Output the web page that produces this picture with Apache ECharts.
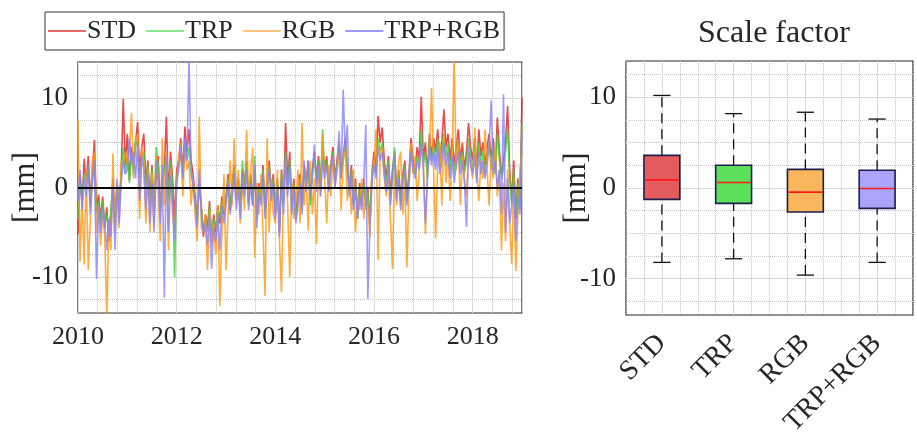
<!DOCTYPE html>
<html>
<head>
<meta charset="UTF-8">
<title></title>
<script src="https://cdn.jsdelivr.net/npm/echarts@6/dist/echarts.min.js"></script>
<style>
* { margin: 0; padding: 0; }
#app { width: 917px; height: 444px; background: #fff; }
</style>
</head>
<body>
<div id="app"></div>
<script>
var names = ['STD', 'TRP', 'RGB', 'TRP+RGB'];
var lineColors = ['#e02222', '#3fd33f', '#ff9a12', '#8a84ff'];
var legendColors = ['#e86868', '#8ee68e', '#ffc47e', '#9c98ff'];
var boxColors = ['#e45c5c', '#5ce05c', '#f9b65a', '#aaa4fa'];

// half-monthly samples from 2010.0 to 2019.0
var startYear = 2010;
var perYear = 24;

var std = [
  -5.2, 1.5, -2.0, 3.2, 0.5, 3.5, -1.5, 2.0, 5.3, -2.5, -0.8, -3.5, -1.0, -4.5, -2.2, -6.0, -3.0, 1.0, -4.0, 0.5, -2.0, 1.5, 9.9, 2.5,
  6.0, 0.8, 4.5, 2.0, 5.0, 7.3, 1.5, 4.5, 6.0, 0.5, 3.0, -1.5, 2.5, -3.0, 1.0, 3.5, -2.5, 0.5, 2.0, 7.9, -1.0, 4.0, 1.0, -3.5,
  2.0, 3.0, 5.5, 1.5, 6.8, 4.0, 6.5, 3.0, 1.5, -1.0, -3.5, 0.5, -2.0, -5.5, -3.0, -4.5, -1.5, -6.0, -3.0, -5.0, -2.0, -4.0, -1.0, -3.0,
  -1.0, 1.5, -2.5, 0.5, 2.5, -1.0, 1.0, -2.0, 2.0, 0.5, 3.0, -1.5, 1.5, -2.0, 2.0, -3.0, 0.5, -1.0, 2.5, -2.5, 1.0, 3.0, -0.5, 1.5,
  -3.0, 1.0, -5.0, 2.0, -1.5, 7.2, 0.5, 4.0, -2.0, 1.0, -3.0, -0.5, 1.5, -2.0, 2.5, 0.5, 3.0, -1.5, 2.0, 4.0, 1.0, 3.5, 0.5, 4.5,
  2.0, 3.5, 0.5, 2.5, 4.5, 1.0, 3.0, 5.0, 1.5, 3.5, 5.5, 2.0, 0.0, 2.5, -1.5, 1.0, -3.0, 0.5, -1.5, 1.0, -2.0, 0.0, -4.0, 1.5,
  4.0, 2.0, 8.0, 5.0, 6.7, 3.0, 1.0, 3.5, -1.0, 2.0, 4.0, -0.5, 2.0, -1.5, 1.5, 3.0, -1.0, 1.5, 5.5, 3.0, 2.0, 4.5, 3.0, 10.1,
  3.0, 5.0, 1.5, 6.0, 3.5, 5.5, 4.0, 6.5, 3.0, 5.0, 8.7, 4.5, 6.0, 3.0, 5.5, 2.5, 4.5, 6.5, 3.0, 5.0, 2.0, 4.0, 7.2, 4.5,
  3.0, 5.5, 2.0, 6.5, 3.5, 5.0, 2.5, 4.5, 6.0, 3.0, 5.5, 2.0, 7.8, 4.0, 1.5, 3.0, 5.0, 9.1, 2.0, -1.5, 3.0, -3.5, 1.0, -2.0,
  10.0
];

var trp = [
  -3.5, 0.5, -1.0, 1.5, 0.0, 2.5, -2.0, 1.0, 3.0, -3.0, -1.5, -4.0, -1.5, -4.0, -3.0, -5.0, -2.5, 0.5, -5.0, 0.5, -2.5, 1.0, 4.5, 1.5,
  3.5, 0.5, 4.0, 1.5, 5.5, 4.5, 1.0, 3.0, 4.0, 0.0, 2.5, -2.0, 2.0, -3.5, 4.5, 2.5, -3.0, 0.5, 1.5, 4.0, -1.5, 3.0, 0.5, -10.0,
  1.0, 2.5, 4.0, 1.0, 5.0, 3.0, 4.5, 1.5, 0.5, -1.5, -4.0, 1.0, -2.5, -4.5, -3.5, -5.0, -2.0, -5.5, -3.5, -4.5, -2.5, -3.5, -1.5, -2.5,
  -1.5, 1.0, -2.0, 0.0, 2.0, -1.5, 0.5, -2.5, 3.0, 0.0, 2.5, -2.0, 1.0, -1.5, 3.5, -3.5, 0.0, -1.5, 2.0, -3.0, 0.5, 2.5, -1.0, 1.0,
  -2.5, 0.5, -4.5, 1.5, -2.0, 4.0, 0.0, 3.0, -2.5, 0.5, -3.5, -1.0, 1.0, -2.5, 2.0, 0.0, 2.5, -2.0, 1.5, 3.5, 0.5, 3.0, 0.0, 6.5,
  1.5, 3.0, 0.0, 2.0, 4.0, 0.5, 2.5, 4.5, 1.0, 3.0, 5.0, 1.5, -0.5, 2.0, -2.0, 0.5, -3.5, 0.0, -2.0, 0.5, -2.5, -0.5, -4.0, 1.0,
  3.0, 1.5, 5.5, 4.0, 5.0, 2.0, 0.5, 3.0, -1.5, 1.5, 4.5, -1.0, 1.5, -2.0, 1.0, 2.5, -1.5, 1.0, 4.5, 2.5, 1.5, 3.5, 2.5, 6.5,
  2.5, 4.0, 1.0, 5.0, 3.0, 4.5, 3.0, 5.5, 2.0, 4.0, 6.0, 3.5, 5.0, 2.0, 4.5, 1.5, 3.5, 5.0, 2.5, 4.0, 1.5, 3.0, 5.5, 3.5,
  2.0, 4.5, 1.0, 5.0, 2.5, 4.0, 1.5, 3.5, 5.0, 2.0, 4.5, 1.5, 6.0, 3.0, 1.0, 2.0, 4.0, 6.5, 1.0, -2.0, 2.0, -3.0, 0.5, -2.5,
  7.0
];

var rgb = [
  7.6, -8.3, -1.0, -8.6, 2.0, -9.2, -3.5, 3.0, 4.0, -5.0, -2.0, -6.5, -3.0, -5.5, -14.5, -4.0, -7.0, 3.8, -5.0, 0.5, -4.5, 3.0, 2.5, 4.0,
  2.5, 4.0, 8.3, 1.0, 5.0, 6.0, -3.5, 4.5, 3.0, -4.0, 2.0, -5.0, 1.5, -4.5, 3.5, 0.5, -6.0, 5.5, -2.0, 4.0, -7.0, 2.0, -3.0, -4.5,
  0.5, 3.5, 5.0, -1.0, 4.5, 2.0, 3.0, -2.0, 1.0, -3.0, -6.0, 7.9, -4.5, -5.0, -3.0, -9.2, -2.5, -6.5, -4.0, -7.5, -2.0, -13.2, -5.0, 1.5,
  -9.2, -3.0, 3.0, -2.0, 5.5, -1.5, 2.0, -4.0, 1.0, -2.5, 6.4, -1.0, 2.0, 4.4, -7.8, 0.5, -3.0, 1.5, -5.0, -12.1, 5.5, -5.0, 1.0, -3.0,
  -4.0, 2.0, -6.0, -11.7, 1.0, 3.0, -2.0, -10.0, 0.5, -3.5, -1.5, 2.0, -4.0, 7.2, -2.0, 1.5, -4.8, 3.0, -3.0, 1.0, -6.3, 2.5, -1.0, 6.0,
  1.0, -4.0, 2.5, -1.0, 3.5, 0.0, 2.0, 4.0, -2.5, 3.0, 4.5, -1.5, 1.0, -3.0, 2.0, -5.0, -1.0, -2.5, 1.0, -3.5, 0.0, -2.0, -5.5, 2.0,
  2.0, 6.5, -8.1, 4.0, 4.5, 1.0, -1.0, 2.0, -3.5, -9.1, 1.5, -2.0, 3.0, 4.0, -3.0, 1.0, -8.9, 0.0, 5.0, 1.5, 3.5, -1.5, 2.0, 4.5,
  3.0, -5.2, 1.5, 4.0, 11.1, 2.0, -5.7, 3.0, 5.0, -2.0, 6.0, 0.5, 4.0, -1.5, 3.0, 14.5, 2.0, 5.0, -2.0, 3.5, 1.0, -1.0, 4.0, 2.5,
  1.0, 6.7, 2.0, -1.5, 3.0, 1.0, 6.5, 2.0, -2.0, 3.5, 1.0, 4.5, -1.0, 2.0, -7.0, 0.5, -6.0, 2.0, -4.0, -8.5, 1.0, -9.3, -3.0, 2.0,
  4.0
];

var trpRgb = [
  -1.5, 2.0, -2.5, 1.0, -1.0, 2.5, -3.0, 0.5, 3.0, -10.2, -2.0, -5.0, -2.5, -4.0, -7.0, -3.5, -5.5, 0.0, -7.0, 1.0, -4.0, 0.5, 3.0, 1.5,
  2.0, 5.5, 2.5, 4.0, 1.0, 5.0, -1.5, 3.5, 2.0, -2.5, 1.5, -4.0, 0.5, -5.0, 3.0, 1.0, -4.0, 2.5, -12.3, 3.5, -5.0, 1.5, -2.0, -6.0,
  0.5, 2.0, 4.5, 1.0, 5.5, 3.0, 14.5, 2.0, 0.0, -2.0, -4.5, 2.0, -3.0, -5.0, -4.0, -6.5, -3.0, -9.1, -4.5, -6.0, -3.0, -7.0, -2.0, -4.0,
  -2.0, 0.5, -3.0, -1.0, 1.5, -2.5, 0.0, -3.5, 1.5, -1.0, 2.0, -2.5, 0.5, -2.0, 2.5, -4.5, -0.5, -2.0, 1.5, -3.5, 0.0, 2.0, -1.5, 0.5,
  -3.5, 0.0, -5.5, 1.0, -3.0, 3.5, -1.0, 2.5, -3.0, 0.0, -4.0, -2.0, 0.5, -3.0, 3.0, -0.5, 3.0, -1.0, 1.0, 4.8, -0.5, 2.5, -1.0, 3.0,
  1.0, 2.5, -0.5, 2.0, 3.5, 0.0, 2.0, 6.3, 1.0, 10.9, 4.0, 7.0, -1.0, 1.5, -2.5, 0.0, -3.5, -1.0, -2.5, 0.5, 7.0, -12.4, -4.5, 0.5,
  2.5, 1.0, 4.5, 3.0, 4.0, 1.5, -0.5, 2.5, -2.0, 1.0, 3.5, -1.5, 1.0, -2.5, 0.5, 2.0, -2.0, 0.5, 4.0, 2.0, 1.0, 3.0, 2.0, 5.0,
  2.0, -4.0, 1.0, 4.5, 2.5, 4.0, 2.0, 4.5, 1.5, 3.0, 5.0, 2.5, 4.0, 1.0, 3.5, 0.5, 2.5, 4.0, 1.5, 3.0, 0.5, -4.4, 4.5, 2.5,
  1.5, 3.5, 0.5, 4.0, 1.5, 3.0, 1.0, 2.5, 4.5, 9.7, 1.5, 3.0, 0.0, 2.0, -3.0, 10.4, -5.0, 1.0, -4.0, -2.0, 0.5, -6.0, -1.0, -3.0,
  6.0
];

// box statistics (whisker low, Q1, median, Q3, whisker high)
var boxLow = [-8.2, -7.8, -9.6, -8.2];
var boxQ1 = [-1.25, -1.7, -2.65, -2.25];
var boxMedian = [0.9, 0.6, -0.45, -0.05];
var boxQ3 = [3.6, 2.5, 2.05, 1.95];
var boxHigh = [10.2, 8.2, 8.35, 7.6];

var font = "'Liberation Serif', 'DejaVu Serif', serif";
var textColor = '#262626';
var majorGrid = '#dadada';
var minorGrid = '#c4c4c4';
var none = 'rgba(0,0,0,0)';

function toPoints(arr) {
  return arr.map(function (v, i) { return [startYear + i / perYear, v]; });
}

function isMult(v, m) {
  var r = v / m;
  return Math.abs(r - Math.round(r)) < 1e-6;
}

function renderBox(params, api) {
  var x = api.value(0);
  var lo = api.coord([x, api.value(1)]);
  var q1 = api.coord([x, api.value(2)]);
  var md = api.coord([x, api.value(3)]);
  var q3 = api.coord([x, api.value(4)]);
  var hi = api.coord([x, api.value(5)]);
  var w = api.size([0.5, 0])[0];
  var cw = api.size([0.24, 0])[0];
  var i = params.dataIndex;
  var dashStyle = { stroke: '#111', lineWidth: 1.3, lineDash: [10, 6] };
  var capStyle = { stroke: '#111', lineWidth: 1.3 };
  return {
    type: 'group',
    children: [
      { type: 'line', shape: { x1: lo[0], y1: lo[1], x2: q1[0], y2: q1[1] }, style: dashStyle },
      { type: 'line', shape: { x1: q3[0], y1: q3[1], x2: hi[0], y2: hi[1] }, style: dashStyle },
      { type: 'line', shape: { x1: hi[0] - cw / 2, y1: hi[1], x2: hi[0] + cw / 2, y2: hi[1] }, style: capStyle },
      { type: 'line', shape: { x1: lo[0] - cw / 2, y1: lo[1], x2: lo[0] + cw / 2, y2: lo[1] }, style: capStyle },
      { type: 'rect', shape: { x: q3[0] - w / 2, y: q3[1], width: w, height: q1[1] - q3[1] },
        style: { fill: boxColors[i], stroke: '#1e1e4e', lineWidth: 1.6 } },
      { type: 'line', shape: { x1: md[0] - w / 2 + 1, y1: md[1], x2: md[0] + w / 2 - 1, y2: md[1] },
        style: { stroke: '#ff1a1a', lineWidth: 1.6 } }
    ]
  };
}

var myChart = echarts.init(document.getElementById('app'));

var yMinorColors = [];
for (var k = 0; k < 20; k++) {
  yMinorColors.push((k === 3 || k === 13 || k === 18) ? minorGrid : none);
}

var lineData = [std, trp, rgb, trpRgb];

var series = lineData.map(function (arr, i) {
  return {
    name: names[i],
    type: 'line',
    xAxisIndex: 0,
    yAxisIndex: 0,
    data: toPoints(arr),
    symbol: 'none',
    lineStyle: { width: 1.6, color: lineColors[i], opacity: 0.82 },
    itemStyle: { color: lineColors[i] }
  };
});
series[3].markLine = {
  silent: true,
  symbol: 'none',
  label: { show: false },
  lineStyle: { color: '#000', width: 2, type: 'solid' },
  data: [{ yAxis: 0 }]
};
series.push({
  type: 'custom',
  xAxisIndex: 2,
  yAxisIndex: 2,
  renderItem: renderBox,
  encode: { x: 0, y: [1, 2, 3, 4, 5] },
  data: names.map(function (n, i) {
    return [i + 1, boxLow[i], boxQ1[i], boxMedian[i], boxQ3[i], boxHigh[i]];
  })
});

function yLabelAxis(gridIndex, gap) {
  return {
    gridIndex: gridIndex, type: 'value', min: -14, max: 14, interval: 2, position: 'left',
    name: '[mm]', nameLocation: 'middle', nameRotate: 90, nameGap: gap, nameMoveOverlap: false,
    nameTextStyle: { fontFamily: font, fontSize: 32, color: textColor },
    axisLine: { show: false }, axisTick: { show: false },
    axisLabel: {
      fontFamily: font, fontSize: 27, color: textColor, margin: 10,
      formatter: function (v) { return isMult(v, 10) ? String(Math.round(v)) : ''; }
    },
    splitLine: { show: true, lineStyle: { color: [none, none, majorGrid, none, none], width: 1 } }
  };
}

function yMinorAxis(gridIndex) {
  return {
    gridIndex: gridIndex, type: 'value', min: -14, max: 14, interval: 0.5, position: 'right',
    axisLine: { show: false }, axisTick: { show: false }, axisLabel: { show: false },
    splitLine: { show: true, lineStyle: { color: yMinorColors, type: 'dotted', width: 1 } }
  };
}

var option = {
  animation: false,
  backgroundColor: '#fff',
  title: {
    text: 'Scale factor',
    left: 769,
    top: 13,
    textAlign: 'center',
    textStyle: { fontFamily: font, fontSize: 32, fontWeight: 'normal', color: textColor }
  },
  legend: {
    left: 45,
    top: 12,
    icon: 'rect',
    itemWidth: 38,
    itemHeight: 2,
    itemGap: 10,
    padding: [6, 4, 6, 3],
    borderColor: '#333',
    borderWidth: 1,
    textStyle: { fontFamily: font, fontSize: 26, color: textColor, padding: [0, 0, 0, -4] },
    data: names.map(function (n, i) {
      return { name: n, itemStyle: { color: legendColors[i] } };
    })
  },
  grid: [
    { left: 78, top: 62, width: 444, height: 251, outerBoundsMode: 'none', show: true, borderColor: '#262626', borderWidth: 1.2, backgroundColor: '#fff' },
    { left: 626, top: 61, width: 287, height: 254, outerBoundsMode: 'none', show: true, borderColor: '#262626', borderWidth: 1.2, backgroundColor: '#fff' }
  ],
  xAxis: [
    {
      gridIndex: 0, type: 'value', min: 2010, max: 2019, interval: 2, position: 'bottom',
      axisLine: { show: false }, axisTick: { show: false },
      axisLabel: {
        fontFamily: font, fontSize: 26, color: textColor, margin: 11,
        formatter: function (v) { return v > 2018.5 ? '' : String(Math.round(v)); }
      },
      splitLine: { show: true, lineStyle: { color: majorGrid, width: 1 } }
    },
    {
      gridIndex: 0, type: 'value', min: 2010, max: 2019, interval: 0.4, position: 'top',
      axisLine: { show: false }, axisTick: { show: false }, axisLabel: { show: false },
      splitLine: { show: true, lineStyle: { color: [none, minorGrid, minorGrid, minorGrid, minorGrid], type: 'dotted', width: 1 } }
    },
    {
      gridIndex: 1, type: 'value', min: 0.5, max: 4.5, interval: 0.5, position: 'bottom',
      axisLine: { show: false }, axisTick: { show: false },
      axisLabel: {
        fontFamily: font, fontSize: 28, color: textColor, margin: 24, rotate: 45,
        formatter: function (v) { return isMult(v, 1) ? names[Math.round(v) - 1] : ''; }
      },
      splitLine: { show: true, lineStyle: { color: [none, majorGrid], width: 1 } }
    },
    {
      gridIndex: 1, type: 'value', min: 0.5, max: 4.5, interval: 0.25, position: 'top',
      axisLine: { show: false }, axisTick: { show: false }, axisLabel: { show: false },
      splitLine: { show: true, lineStyle: { color: [minorGrid, minorGrid, none, minorGrid], type: 'dotted', width: 1 } }
    }
  ],
  yAxis: [yLabelAxis(0, 36), yMinorAxis(0), yLabelAxis(1, 33), yMinorAxis(1)],
  series: series
};

myChart.setOption(option);
</script>
</body>
</html>
